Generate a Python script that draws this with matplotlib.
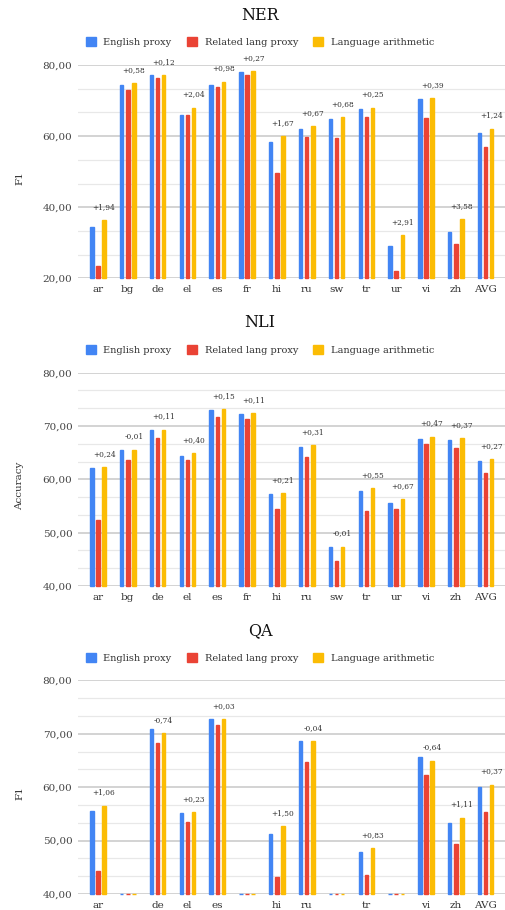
import numpy as np
import matplotlib
matplotlib.use('Agg')
import matplotlib.pyplot as plt
from matplotlib.patches import Patch
from matplotlib.ticker import MultipleLocator, FuncFormatter

plt.rcParams['font.family'] = ['DejaVu Serif']

langs = ['ar', 'bg', 'de', 'el', 'es', 'fr', 'hi', 'ru', 'sw', 'tr', 'ur', 'vi', 'zh', 'AVG']
series_names = ['English proxy', 'Related lang proxy', 'Language arithmetic']

# NER (F1)
ner_english = [34.5, 74.3, 77.1, 65.95, 74.3, 78.0, 58.4, 62.1, 64.7, 67.75, 29.15, 70.3, 33.1, 60.8]
ner_related = [23.5, 72.9, 76.25, 65.9, 73.8, 77.3, 49.5, 59.7, 59.4, 65.5, 22.0, 65.0, 29.6, 56.9]
ner_gain = [1.94, 0.58, 0.12, 2.04, 0.98, 0.27, 1.67, 0.67, 0.68, 0.25, 2.91, 0.39, 3.58, 1.24]

# NLI (accuracy)
nli_english = [62.1, 65.55, 69.2, 64.45, 72.95, 72.3, 57.2, 66.1, 47.4, 57.8, 55.6, 67.5, 67.3, 63.5]
nli_related = [52.3, 63.56, 67.7, 63.7, 71.6, 71.4, 54.4, 64.25, 44.6, 54.1, 54.4, 66.7, 65.9, 61.1]
nli_gain = [0.24, -0.01, 0.11, 0.40, 0.15, 0.11, 0.21, 0.31, -0.01, 0.55, 0.67, 0.47, 0.37, 0.27]

# QA (F1); bg, fr, sw and ur have no results (0)
qa_english = [55.5, 0, 70.9, 55.1, 72.75, 0, 51.25, 68.65, 0, 47.8, 0, 65.6, 53.2, 60.1]
qa_related = [44.3, 0, 68.3, 53.4, 71.6, 0, 43.2, 64.8, 0, 43.6, 0, 62.3, 49.4, 55.35]
qa_gain = [1.06, 0, -0.74, 0.23, 0.03, 0, 1.50, -0.04, 0, 0.83, 0, -0.64, 1.11, 0.37]

colors = ['#4285F4', '#EA4335', '#FBBC04']

W, H = 505, 910
fig = plt.figure(figsize=(W / 100, H / 100), dpi=100)


def comma(v, fmt='{:.2f}'):
    return fmt.format(v).replace('.', ',')


def panel(top_px, bottom_px, title, title_px, legend_px, ylabel,
          english, related, gain, ymin, ymax, major):
    english = np.array(english, dtype=float)
    related = np.array(related, dtype=float)
    gain = np.array(gain, dtype=float)
    arith = english + gain
    ax = fig.add_axes([78 / W, 1 - bottom_px / H, (W - 78) / W, (bottom_px - top_px) / H])
    x = np.arange(len(langs))
    off = 0.205
    for k, vals in enumerate([english, related, arith]):
        ax.bar(x + (k - 1) * off, np.clip(vals - ymin, 0, None), bottom=ymin,
               width=0.115, color=colors[k], edgecolor=colors[k], linewidth=1.0,
               clip_on=False, zorder=3)
    for i in range(len(langs)):
        if english[i] == 0:
            continue
        s = ('+' if gain[i] >= 0 else '-') + comma(abs(gain[i]))
        ax.annotate(s, (x[i] + off, arith[i]), xytext=(0, 9.5), textcoords='offset points',
                    ha='center', va='center', fontsize=5.3, color='#333333',
                    annotation_clip=False)
    ax.set_xlim(-0.67, len(langs) - 1 + 0.65)
    ax.set_ylim(ymin, ymax)
    ax.yaxis.set_major_locator(MultipleLocator(major))
    ax.yaxis.set_minor_locator(MultipleLocator(major / 3))
    ax.yaxis.set_major_formatter(FuncFormatter(lambda v, p: comma(v)))
    ax.grid(which='major', axis='y', color='#c8c8c8', linewidth=1.1)
    ax.grid(which='minor', axis='y', color='#e8e8e8', linewidth=0.9)
    ax.set_axisbelow(True)
    for sp in ax.spines.values():
        sp.set_visible(False)
    ax.tick_params(axis='both', which='both', length=0)
    ax.tick_params(axis='y', pad=4, labelsize=7.5, labelcolor='#444444')
    ax.tick_params(axis='x', pad=5, labelsize=7.5, labelcolor='#333333')
    ax.set_xticks(x)
    ax.set_xticklabels([l if e != 0 else '' for l, e in zip(langs, english)])

    fig.text(0.515, 1 - title_px / H, title, ha='center', va='center',
             fontsize=11.5, color='#111111')
    handles = [Patch(color=c) for c in colors]
    ax.legend(handles, series_names, loc='center', bbox_to_anchor=(0.515, 1 - legend_px / H),
              bbox_transform=fig.transFigure, ncol=3, frameon=False, fontsize=7,
              handlelength=1.0, handleheight=1.0, handletextpad=0.8,
              columnspacing=1.6, labelcolor='#333333', borderpad=0)
    fig.text(20 / W, 1 - ((top_px + bottom_px) / 2 + 6) / H, ylabel, rotation=90,
             ha='center', va='center', fontsize=7.5, color='#333333')
    return ax


panel(65, 278.3, 'NER', 15, 42, 'F1', ner_english, ner_related, ner_gain, 20, 80, 20)
panel(372.7, 586, 'NLI', 322.7, 350, 'Accuracy', nli_english, nli_related, nli_gain, 40, 80, 10)
panel(680.3, 894, 'QA', 631, 657.7, 'F1', qa_english, qa_related, qa_gain, 40, 80, 10)

fig.savefig('out.png', dpi=100, facecolor='white')
